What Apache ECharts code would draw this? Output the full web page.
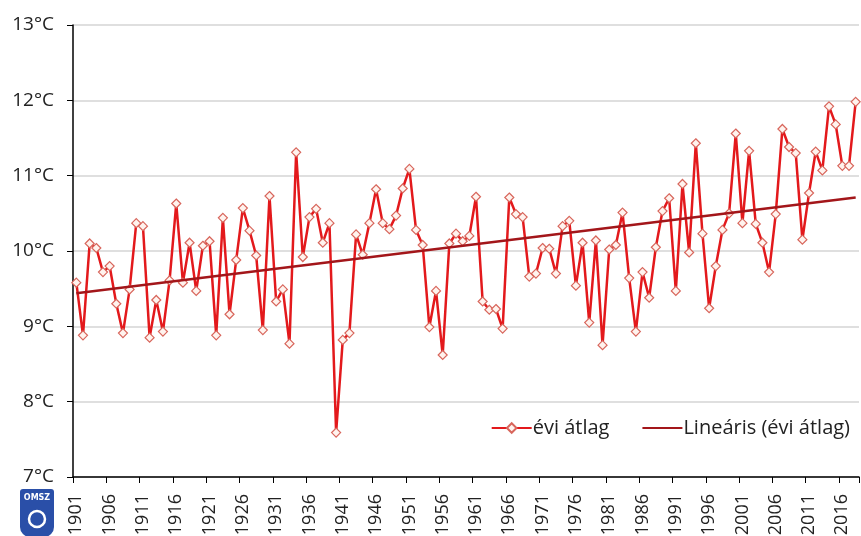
<!DOCTYPE html>
<html>
<head>
<meta charset="UTF-8">
<title>Évi középhőmérséklet</title>
<script src="https://cdn.jsdelivr.net/npm/echarts@6/dist/echarts.min.js"></script>
<style>
  html, body { margin: 0; padding: 0; background: #fff; }
  #container { width: 861px; height: 536px; }
</style>
</head>
<body>
<div id="container"></div>
<script>
// évek 1901-2018
var years = [];
for (var y = 1901; y <= 2018; y++) years.push(String(y));

// évi átlaghőmérséklet (°C), leolvasva
var annualMean = [
  9.58, 8.88, 10.10, 10.04, 9.72, 9.80, 9.30, 8.91, 9.49, 10.37,   // 1901-1910
  10.33, 8.85, 9.35, 8.93, 9.61, 10.63, 9.58, 10.11, 9.47, 10.07,  // 1911-1920
  10.13, 8.88, 10.44, 9.16, 9.88, 10.57, 10.27, 9.94, 8.95, 10.73, // 1921-1930
  9.33, 9.49, 8.77, 11.31, 9.92, 10.45, 10.56, 10.11, 10.37, 7.59, // 1931-1940
  8.82, 8.91, 10.22, 9.95, 10.37, 10.82, 10.37, 10.29, 10.47, 10.83, // 1941-1950
  11.09, 10.28, 10.08, 8.99, 9.47, 8.62, 10.10, 10.23, 10.13, 10.20, // 1951-1960
  10.72, 9.33, 9.22, 9.23, 8.97, 10.71, 10.49, 10.45, 9.66, 9.70,  // 1961-1970
  10.04, 10.03, 9.70, 10.33, 10.40, 9.54, 10.11, 9.05, 10.14, 8.75, // 1971-1980
  10.02, 10.08, 10.51, 9.64, 8.93, 9.72, 9.38, 10.05, 10.53, 10.70, // 1981-1990
  9.47, 10.89, 9.98, 11.43, 10.23, 9.24, 9.80, 10.28, 10.50, 11.56, // 1991-2000
  10.37, 11.33, 10.36, 10.11, 9.72, 10.49, 11.62, 11.38, 11.30, 10.15, // 2001-2010
  10.77, 11.32, 11.07, 11.92, 11.68, 11.13, 11.13, 11.98           // 2011-2018
];

// lineáris trend végpontjai
var trendYears = ['1901', '2018'];
var trendValues = [9.44, 10.71];

var yTicks = { min: 7, max: 13, interval: 1 };

var trendData = years.map(function (yr) {
  var k = trendYears.indexOf(yr);
  return k >= 0 ? trendValues[k] : null;
});

var FONT = 'Open Sans';
var myChart = echarts.init(document.getElementById('container'));

var option = {
  animation: false,
  textStyle: { fontFamily: FONT },
  grid: { left: 73, right: 2, top: 25, bottom: 59, containLabel: false, outerBoundsMode: 'none' },
  legend: {
    right: 6,
    top: 413,
    itemGap: 32,
    itemWidth: 40,
    itemHeight: 12,
    textStyle: { fontFamily: FONT, fontSize: 20, color: '#222', padding: [0, 0, 0, -4] },
    data: [
      { name: 'évi átlag' },
      { name: 'Lineáris (évi átlag)', itemStyle: { opacity: 0 } }
    ]
  },
  xAxis: {
    type: 'category',
    data: years,
    boundaryGap: true,
    axisLine: { lineStyle: { color: '#000', width: 1.5 } },
    axisTick: { show: true, interval: 4, length: 6, lineStyle: { color: '#000' } },
    axisLabel: {
      interval: 4,
      rotate: 90,
      margin: 17,
      fontFamily: FONT,
      fontSize: 18,
      color: '#222'
    },
    splitLine: { show: false }
  },
  yAxis: {
    type: 'value',
    min: yTicks.min,
    max: yTicks.max,
    interval: yTicks.interval,
    axisLine: { show: true, lineStyle: { color: '#000', width: 1.5 } },
    axisTick: { show: true, length: 6, lineStyle: { color: '#000' } },
    axisLabel: {
      formatter: '{value}°C',
      margin: 19,
      fontFamily: FONT,
      fontSize: 19,
      color: '#222'
    },
    splitLine: { show: true, lineStyle: { color: '#d4d4d4', width: 1.5 } }
  },
  graphic: [
    {
      type: 'group',
      left: 20,
      top: 489,
      children: [
        { type: 'rect', shape: { x: 0, y: 0, width: 34, height: 48, r: [3, 3, 10, 10] },
          style: { fill: '#2a4fa8' } },
        { type: 'text', x: 17, y: 5, style: { text: 'OMSZ', fill: '#fff', fontSize: 8,
          fontWeight: 'bold', fontFamily: 'DejaVu Sans', align: 'center' } },
        { type: 'circle', shape: { cx: 17, cy: 30, r: 8 },
          style: { fill: 'none', stroke: '#fff', lineWidth: 2.5 } }
      ]
    }
  ],
  series: [
    {
      name: 'évi átlag',
      type: 'line',
      data: annualMean,
      symbol: 'diamond',
      symbolSize: 9,
      showAllSymbol: true,
      lineStyle: { color: '#e3191c', width: 2.5 },
      itemStyle: { color: '#fff3ee', borderColor: '#d8665c', borderWidth: 1.2 },
      z: 3
    },
    {
      name: 'Lineáris (évi átlag)',
      type: 'line',
      data: trendData,
      connectNulls: true,
      symbol: 'none',
      lineStyle: { color: '#a3161a', width: 2.5 },
      itemStyle: { color: '#a3161a' },
      z: 4
    }
  ]
};

myChart.setOption(option);
</script>
</body>
</html>
